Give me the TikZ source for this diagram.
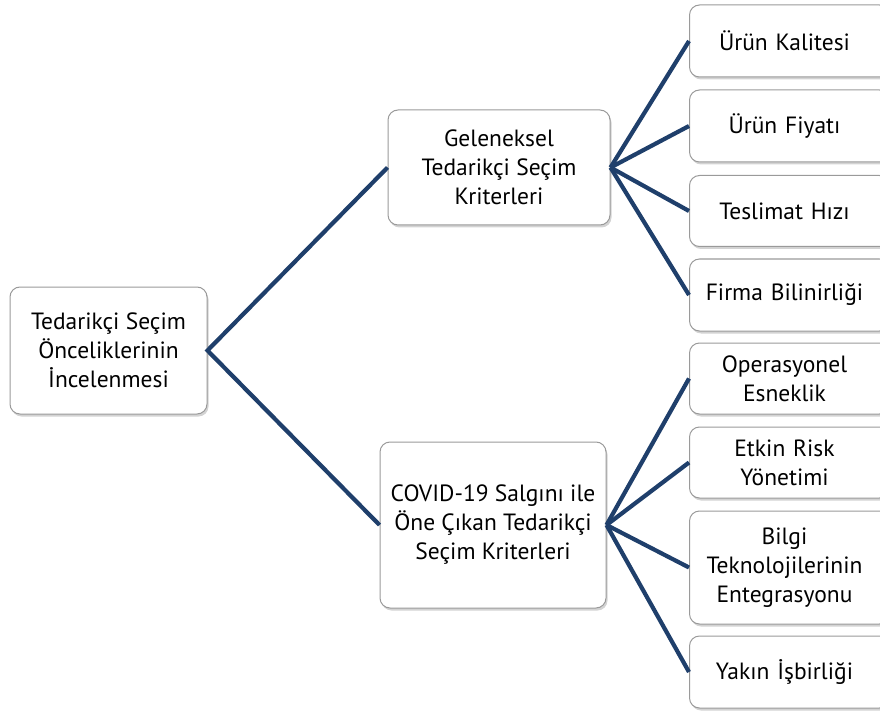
\documentclass[tikz,border=0pt]{standalone}
\usepackage{fontspec}
\setmainfont{PT Sans}
\usetikzlibrary{shadows}
\definecolor{navy}{HTML}{1F3F6B}
\definecolor{boxline}{HTML}{9A9A9A}
\begin{document}
\begin{tikzpicture}[x=1pt,y=-1pt,
  box/.style={draw=boxline, line width=1pt, fill=white, rounded corners=10pt,
    drop shadow={opacity=0.35, shadow xshift=1.5pt, shadow yshift=-2.5pt},
    align=center, inner sep=0pt, font=\fontsize{23.5}{29}\selectfont},
  rbox/.style={box, minimum width=200pt, anchor=west, text width=190pt},
  link/.style={draw=navy, line width=4.2pt}]
\useasboundingbox (0,0) rectangle (880,711);
\begin{scope}
\clip (0,0) rectangle (880,711);
% right column boxes
\node[rbox, minimum height=72pt] (k1) at (689,41) {\hspace*{-10pt}Ürün Kalitesi};
\node[rbox, minimum height=72pt] (k2) at (689,126) {\hspace*{-10pt}Ürün Fiyatı};
\node[rbox, minimum height=71pt] (k3) at (689,211) {\hspace*{-10pt}Teslimat Hızı};
\node[rbox, minimum height=72pt] (k4) at (689,295) {\hspace*{-10pt}Firma Bilinirliği};
\node[rbox, minimum height=71pt] (c1) at (689,378.5) {\hspace*{-10pt}Operasyonel\\\hspace*{-10pt}Esneklik};
\node[rbox, minimum height=71pt] (c2) at (689,462.5) {\hspace*{-10pt}Etkin Risk\\\hspace*{-10pt}Yönetimi};
\node[rbox, minimum height=113pt] (c3) at (689,567.5) {\hspace*{-10pt}Bilgi\\\hspace*{-10pt}Teknolojilerinin\\\hspace*{-10pt}Entegrasyonu};
\node[rbox, minimum height=72pt] (c4) at (689,672) {\hspace*{-10pt}Yakın İşbirliği};
% middle boxes
\node[box, minimum width=222pt, minimum height=115pt] (g) at (499,167.5) {Geleneksel\\Tedarikçi Seçim\\Kriterleri};
\node[box, minimum width=226pt, minimum height=166pt] (v) at (493,525) {COVID-19 Salgını ile\\Öne Çıkan Tedarikçi\\Seçim Kriterleri};
% root
\node[box, minimum width=197pt, minimum height=127pt] (r) at (108.5,350.5) {Tedarikçi Seçim\\Önceliklerinin\\İncelenmesi};
% connectors
\draw[link] (g.west) -- (r.east) -- (v.west);
\foreach \t in {k1,k2,k3,k4} \draw[link] (g.east) -- (\t.west);
\foreach \t in {c1,c2,c3,c4} \draw[link] (v.east) -- (\t.west);
\end{scope}
\end{tikzpicture}
\end{document}
